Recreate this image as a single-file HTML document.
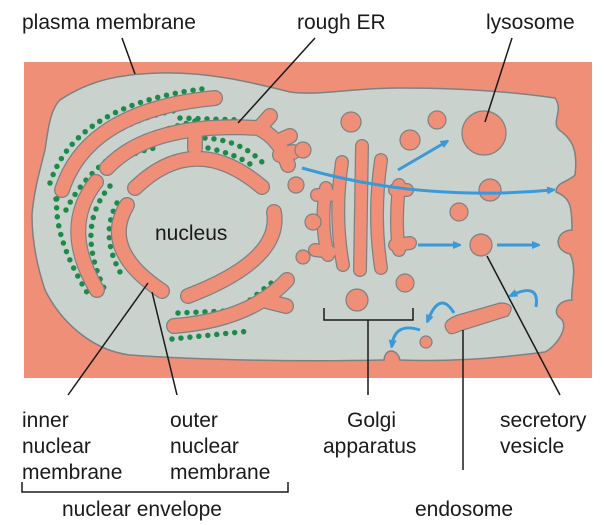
<!DOCTYPE html>
<html><head><meta charset="utf-8"><style>
html,body{margin:0;padding:0;background:#fff;}
svg{display:block}
text{font-family:"Liberation Sans","DejaVu Sans",sans-serif;font-size:21px;fill:#1a1a1a}
</style></head><body>
<svg width="606" height="525" viewBox="0 0 606 525" xmlns="http://www.w3.org/2000/svg">
<defs>
<marker id="ah" markerWidth="8" markerHeight="8" refX="5" refY="4" orient="auto" markerUnits="userSpaceOnUse"><path d="M0,0 L10,4 L0,8 Z" fill="#3a9ad9"/></marker>
</defs>
<rect x="24" y="62" width="568" height="316" fill="#f08f78"/>
<path d="M60,100 C90,80 120,74 160,73 C210,72 250,82 290,92 C320,96 350,88 400,88 C450,88 500,90 555,98 C565,112 548,124 562,132 C572,140 578,150 575,175 C568,182 556,182 556,192 C570,198 572,205 572,230 C556,230 552,250 570,254 C578,270 570,290 572,300 C558,300 552,312 560,318 C570,325 558,345 545,352 C500,358 450,362 400,360 C397,348 385,348 384,360 C300,362 200,360 130,355 C90,350 60,320 45,290 C35,260 32,235 32,215 C34,190 40,170 45,150 C48,130 50,110 60,100 Z" fill="#cad2ce" stroke="#808080" stroke-width="1.5"/>
<g fill="none" stroke="#1e8a4a" stroke-width="5.5" stroke-linecap="round" stroke-dasharray="0 9">
<path d="M50,183 Q76,103 210,88"/>
<path d="M56,199 Q90,125 178,110"/>
<path d="M66,210 Q100,142 200,120"/>
<path d="M78,207 Q100,157 160,147"/>
<path d="M180,118 L240,120"/>
<path d="M58,190 Q50,232 88,294"/>
<path d="M110,186 Q74,228 106,292"/>
<path d="M117,203 Q100,235 120,272"/>
<path d="M205,138 Q240,140 262,162"/>
<path d="M208,148 Q235,154 250,164"/>
<path d="M172,339 L250,331"/>
<path d="M178,313 L225,311"/>
<path d="M250,300 L275,280"/>
</g>
<g fill="none" stroke-linecap="round" stroke-linejoin="round">
<g stroke="#808080" stroke-width="16">
<path d="M62,190 Q88,110 215,98"/>
<path d="M107,168 Q150,122 258,128 Q280,138 288,165"/>
<path d="M135,188 Q195,130 262,187"/>
<path d="M195,130 L195,148"/>
<path d="M96,182 Q60,228 97,290"/>
<path d="M127,205 Q100,250 162,291"/>
<path d="M274,212 Q282,260 188,296"/>
<path d="M174,326 Q250,320 287,280"/>
<path d="M262,300 L286,306"/>
<path d="M262,125 L270,116 M276,142 L290,136 M280,155 L293,152"/>
</g>
<g stroke="#f08f78" stroke-width="13.5">
<path d="M62,190 Q88,110 215,98"/>
<path d="M107,168 Q150,122 258,128 Q280,138 288,165"/>
<path d="M135,188 Q195,130 262,187"/>
<path d="M195,130 L195,148"/>
<path d="M96,182 Q60,228 97,290"/>
<path d="M127,205 Q100,250 162,291"/>
<path d="M274,212 Q282,260 188,296"/>
<path d="M174,326 Q250,320 287,280"/>
<path d="M262,300 L286,306"/>
<path d="M262,125 L270,116 M276,142 L290,136 M280,155 L293,152"/>
</g>
<g stroke="#808080" stroke-width="14">
<path d="M362,146 L360,270"/>
<path d="M342,162 Q334,215 343,265"/>
<path d="M381,160 Q373,215 381,268"/>
<path d="M326,188 Q320,225 328,255 M317,195 L330,195 M315,250 L330,252"/>
<path d="M399,185 Q395,225 399,250 M395,190 L407,190 M395,245 L410,243"/>
</g>
<g stroke="#f08f78" stroke-width="11.5">
<path d="M362,146 L360,270"/>
<path d="M342,162 Q334,215 343,265"/>
<path d="M381,160 Q373,215 381,268"/>
<path d="M326,188 Q320,225 328,255 M317,195 L330,195 M315,250 L330,252"/>
<path d="M399,185 Q395,225 399,250 M395,190 L407,190 M395,245 L410,243"/>
</g>
</g>
<g fill="#f08f78" stroke="#808080" stroke-width="1.2">
<circle cx="351" cy="122" r="10"/><circle cx="303" cy="150" r="8"/><circle cx="296" cy="185" r="8"/>
<circle cx="313" cy="222" r="8"/><circle cx="303" cy="257" r="7"/><circle cx="410" cy="140" r="10"/>
<circle cx="437" cy="120" r="9"/><circle cx="484" cy="133" r="22"/><circle cx="490" cy="190" r="11"/>
<circle cx="459" cy="212" r="9"/><circle cx="481" cy="245" r="11"/><circle cx="357" cy="300" r="11"/>
<circle cx="405" cy="283" r="9"/><circle cx="426" cy="342" r="6"/>
<path d="M449,333 Q438,322 458,315 L500,303 Q517,303 508,316 L460,331 Q452,335 449,333 Z"/>
</g>
<g fill="none" stroke="#3a9ad9" stroke-width="3" marker-end="url(#ah)">
<path d="M302,168 Q420,202 552,190"/>
<path d="M398,170 L446,142"/>
<path d="M418,245 L458,245"/>
<path d="M497,245 L537,245"/>
<path d="M454,313 Q440,290 428,320"/>
<path d="M420,330 Q395,322 392,345"/>
<path d="M536,307 Q540,282 512,295"/>
</g>
<g stroke="#1a1a1a" stroke-width="1.5" fill="none">
<path d="M122,38 L135,74"/>
<path d="M315,38 L238,123"/>
<path d="M512,38 L485,122"/>
<path d="M68,395 L148,283"/>
<path d="M177,395 L152,292"/>
<path d="M324,308 L324,320 L413,320 L413,308 M368,320 L368,395"/>
<path d="M463,330 L463,470"/>
<path d="M487,256 L560,395"/>
<path d="M22,482 L22,492 L288,492 L288,482"/>
</g>
<text x="22" y="29">plasma membrane</text>
<text x="297" y="29">rough ER</text>
<text x="486" y="29">lysosome</text>
<text x="155" y="240">nucleus</text>
<text x="22" y="427">inner</text><text x="22" y="453">nuclear</text><text x="22" y="479">membrane</text>
<text x="170" y="427">outer</text><text x="170" y="453">nuclear</text><text x="170" y="479">membrane</text>
<text x="347" y="427">Golgi</text><text x="323" y="453">apparatus</text>
<text x="500" y="427">secretory</text><text x="500" y="453">vesicle</text>
<text x="62" y="516">nuclear envelope</text>
<text x="415" y="516">endosome</text>
</svg>
</body></html>
